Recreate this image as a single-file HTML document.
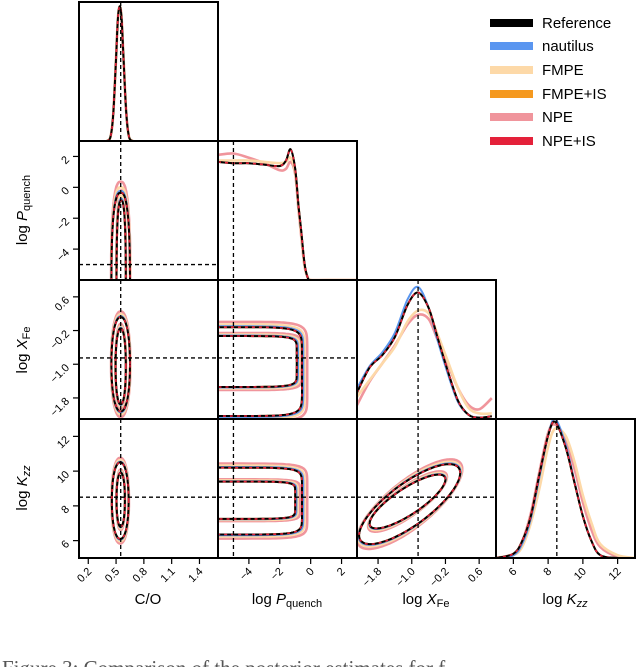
<!DOCTYPE html>
<html><head><meta charset="utf-8"><style>
html,body{margin:0;padding:0;background:#fff;width:640px;height:667px;overflow:hidden}
svg{display:block;font-family:"Liberation Sans","DejaVu Sans",sans-serif}
</style></head><body>
<svg id="fig" width="640" height="667" viewBox="0 0 640 667" xmlns="http://www.w3.org/2000/svg">
<g id="marks"></g>
<g id="frames"></g>
<g id="axes"></g>
<g font-size="15">
 <g><rect x="490" y="19" width="43" height="8" fill="#000"/><text x="542" y="28">Reference</text></g>
 <g><rect x="490" y="42" width="43" height="8" fill="#5a96f0"/><text x="542" y="51">nautilus</text></g>
 <g><rect x="490" y="66" width="43" height="8" fill="#fdd9a8"/><text x="542" y="75">FMPE</text></g>
 <g><rect x="490" y="90" width="43" height="8" fill="#f5991f"/><text x="542" y="99">FMPE+IS</text></g>
 <g><rect x="490" y="113" width="43" height="8" fill="#f0959c"/><text x="542" y="122">NPE</text></g>
 <g><rect x="490" y="137" width="43" height="8" fill="#e4213a"/><text x="542" y="146">NPE+IS</text></g>
</g>
<text x="2" y="675" font-family="Liberation Serif, serif" font-size="21" fill="#555">Figure 3: Comparison of the posterior estimates for f</text>
</svg>
<script>
const NS='http://www.w3.org/2000/svg';
const varNames=['co','log-p-quench','log-x-fe','log-kzz'];
const rangesMin=[0.1,-6,-2.3,5];
const rangesMax=[1.6,3,1.0,13];
const ticksCO=[0.2,0.5,0.8,1.1,1.4];
const ticksP=[-4,-2,0,2];
const ticksFe=[-1.8,-1.0,-0.2,0.6];
const ticksK=[6,8,10,12];
const tickLabelsCO=['0.2','0.5','0.8','1.1','1.4'];
const tickLabelsP=['\u22124','\u22122','0','2'];
const tickLabelsFe=['\u22121.8','\u22121.0','\u22120.2','0.6'];
const tickLabelsK=['6','8','10','12'];
const truthValues=[0.55,-5,-0.85,8.5];
const seriesNames=['npe','fmpe','nautilus','fmpe-is','reference','npe-is'];
const seriesScaleX=[1.04,1.02,1.01,1.0,1.0,1.0];
const seriesScaleY=[1.12,1.06,1.02,1.0,1.0,1.0];
// marginal grids and densities
const gridCO=[0.40,0.44,0.47,0.50,0.52,0.54,0.56,0.58,0.61,0.64,0.68];
const densCO=[0,0.03,0.2,0.6,0.88,0.97,0.88,0.6,0.2,0.03,0];
const gridP=[-6,-5,-4,-3,-2,-1.6,-1.3,-1.0,-0.8,-0.6,-0.4,-0.2,0,1,3];
const densPRef=[0.85,0.84,0.84,0.83,0.82,0.86,0.94,0.80,0.55,0.34,0.12,0.02,0,0,0];
const densPNPE=[0.9,0.91,0.88,0.84,0.79,0.80,0.85,0.76,0.52,0.30,0.10,0.02,0,0,0];
const densPFMPE=[0.86,0.86,0.86,0.85,0.84,0.85,0.88,0.78,0.54,0.32,0.11,0.02,0,0,0];
const gridFe=[-2.3,-2.0,-1.7,-1.4,-1.1,-0.85,-0.6,-0.4,-0.15,0.1,0.35,0.6,0.9];
const densFeRef=[0.19,0.37,0.46,0.59,0.82,0.91,0.80,0.60,0.35,0.13,0.03,0.01,0.02];
const densFeNaut=[0.22,0.38,0.48,0.62,0.86,0.95,0.80,0.58,0.33,0.12,0.03,0.01,0.02];
const densFeFMPE=[0.16,0.28,0.40,0.52,0.70,0.78,0.76,0.62,0.42,0.22,0.08,0.04,0.04];
const densFeNPE=[0.10,0.27,0.40,0.53,0.68,0.75,0.72,0.58,0.40,0.22,0.10,0.07,0.15];
const gridK=[5,6,6.5,7,7.5,8,8.4,9,9.5,10,10.5,11,12,13];
const densKRef=[0,0.03,0.12,0.3,0.6,0.88,0.98,0.8,0.55,0.3,0.12,0.02,0,0];
const densKNaut=[0,0.02,0.1,0.28,0.58,0.88,1.0,0.82,0.56,0.3,0.12,0.02,0,0];
const densKFMPE=[0,0.02,0.08,0.25,0.5,0.8,0.93,0.88,0.7,0.45,0.25,0.1,0.02,0];
const densKNPE=[0,0.03,0.12,0.32,0.62,0.9,0.96,0.85,0.65,0.4,0.2,0.08,0.01,0];
// contours: [row, col, mx, my, sx, sy, rho, p]
const contoursCO_P=[[1,0,0.55,-6.3,0.10,5.95,0,2.6],[1,0,0.555,-6.3,0.05,5.45,0,2.6]];
const contoursCO_Fe=[[2,0,0.55,-1.0,0.10,1.12,0,2.2],[2,0,0.55,-1.05,0.055,0.9,0,2.2]];
const contoursCO_K=[[3,0,0.545,8.3,0.09,2.2,0,2.2],[3,0,0.55,8.35,0.045,1.55,0,2.2]];
const contoursP_Fe=[[2,1,-9,-1.175,8.44,1.055,0,10],[2,1,-9,-0.935,8.1,0.605,0,10]];
const contoursP_K=[[3,1,-9,8.275,8.44,1.925,0,10],[3,1,-9,8.325,8.0,1.075,0,10]];
const contoursFe_K=[[3,2,-1.05,8.1,1.2,2.3,0.78,2],[3,2,-1.1,8.25,0.9,1.55,0.82,2]];

const colors={'reference':'#000','nautilus':'#5a96f0','fmpe':'#fdd9a8','fmpe-is':'#f5991f','npe':'#f0959c','npe-is':'#e4213a'};
const PX=[79,218,357,496], PY=[2,141,280,419], PW=139;
function sx(i,v){return PX[i]+(v-rangesMin[i])/(rangesMax[i]-rangesMin[i])*PW;}
function sy(j,v){return PY[j]+PW-(v-rangesMin[j])/(rangesMax[j]-rangesMin[j])*PW;}
const marks=document.getElementById('marks'), frames=document.getElementById('frames'), axes=document.getElementById('axes');
function mk(tag,attrs,parent){const e=document.createElementNS(NS,tag);for(const k in attrs)e.setAttribute(k,attrs[k]);parent.appendChild(e);return e;}
const defs=mk('defs',{},document.getElementById('fig'));
for(let r=0;r<4;r++)for(let c=0;c<=r;c++){const cp=mk('clipPath',{id:'cp'+r+c},defs);mk('rect',{x:PX[c],y:PY[r],width:PW,height:PW},cp);}
function smooth(pts){let d='M'+pts[0][0].toFixed(1)+','+pts[0][1].toFixed(1);for(let i=0;i<pts.length-1;i++){const p0=pts[Math.max(i-1,0)],p1=pts[i],p2=pts[i+1],p3=pts[Math.min(i+2,pts.length-1)];d+=' C'+(p1[0]+(p2[0]-p0[0])/6).toFixed(1)+','+(p1[1]+(p2[1]-p0[1])/6).toFixed(1)+' '+(p2[0]-(p3[0]-p1[0])/6).toFixed(1)+','+(p2[1]-(p3[1]-p1[1])/6).toFixed(1)+' '+p2[0].toFixed(1)+','+p2[1].toFixed(1);}return d;}
function style(path,s){path.setAttribute('fill','none');path.setAttribute('stroke',colors[s]);path.setAttribute('stroke-width',s==='reference'?2:(s==='npe'||s==='fmpe'?2.6:2));path.setAttribute('stroke-linejoin','round');if(s==='npe-is'){path.setAttribute('stroke-dasharray','3,4');path.setAttribute('stroke-width',1.6);}}
function densFor(k,s){
 if(k===0)return densCO;
 if(k===1)return s==='npe'?densPNPE:(s==='fmpe'?densPFMPE:densPRef);
 if(k===2)return s==='npe'?densFeNPE:(s==='fmpe'?densFeFMPE:(s==='nautilus'?densFeNaut:densFeRef));
 return s==='npe'?densKNPE:(s==='fmpe'?densKFMPE:(s==='nautilus'?densKNaut:densKRef));
}
const grids=[gridCO,gridP,gridFe,gridK];
for(let k=0;k<4;k++){
 const g=mk('g',{'clip-path':'url(#cp'+k+k+')'},marks);
 
 
 for(const s of seriesNames){
  const dens=densFor(k,s);
  const pts=grids[k].map((v,i)=>[sx(k,v),PY[k]+PW-dens[i]*PW]);
  const p=mk('path',{d:smooth(pts)},g);style(p,s);
  
  
 }
}
const allContours=[contoursCO_P,contoursCO_Fe,contoursCO_K,contoursP_Fe,contoursP_K,contoursFe_K];
for(const set of allContours){
 const r=set[0][0],c=set[0][1];
 const g=mk('g',{'clip-path':'url(#cp'+r+c+')'},marks);
 
 
 seriesNames.forEach((s,si)=>{
  set.forEach((ct,li)=>{
   const [rr,cc,mx,my,ax,ay,rho,pw]=ct;
   const fx=seriesScaleX[si], fy=seriesScaleY[si];
   let d='';
   for(let t=0;t<=160;t++){
    const a=t/160*2*Math.PI, ca=Math.cos(a), sa=Math.sin(a);
    const u=Math.sign(ca)*Math.pow(Math.abs(ca),2/pw), w=Math.sign(sa)*Math.pow(Math.abs(sa),2/pw);
    const vx=mx+ax*fx*u, vy=my+ay*fy*(rho*u+Math.sqrt(1-rho*rho)*w);
    d+=(t?'L':'M')+sx(cc,vx).toFixed(1)+','+sy(rr,vy).toFixed(1);
   }
   const p=mk('path',{d:d+'Z'},g);style(p,s);
   
   
  });
 });
}
for(let r=0;r<4;r++)for(let c=0;c<=r;c++){
 const g=mk('g',{'clip-path':'url(#cp'+r+c+')',stroke:'#000','stroke-width':1.3,'stroke-dasharray':'4,3'},marks);
 
 
 mk('line',{x1:sx(c,truthValues[c]),x2:sx(c,truthValues[c]),y1:PY[r],y2:PY[r]+PW},g);
 if(r!==c)mk('line',{x1:PX[c],x2:PX[c]+PW,y1:sy(r,truthValues[r]),y2:sy(r,truthValues[r])},g);
}
for(let r=0;r<4;r++)for(let c=0;c<=r;c++){
 const f=mk('rect',{x:PX[c],y:PY[r],width:PW,height:PW,fill:'none',stroke:'#000','stroke-width':2},frames);
 
 
}
const tickSets=[ticksCO,ticksP,ticksFe,ticksK];
const labelSets=[tickLabelsCO,tickLabelsP,tickLabelsFe,tickLabelsK];
for(let k=0;k<4;k++){
 const g=mk('g',{'font-size':11},axes);
 
 
 tickSets[k].forEach((v,i)=>{
  const x=sx(k,v);
  mk('line',{x1:x,x2:x,y1:558,y2:564,stroke:'#000','stroke-width':1.2},g);
  const t=mk('text',{x:x+4,y:572,'text-anchor':'end',transform:'rotate(-45 '+(x+4)+' 572)'},g);t.textContent=labelSets[k][i];
 });
}
for(let k=1;k<4;k++){
 const g=mk('g',{'font-size':11},axes);
 
 
 tickSets[k].forEach((v,i)=>{
  const y=sy(k,v);
  mk('line',{x1:73,x2:79,y1:y,y2:y,stroke:'#000','stroke-width':1.2},g);
  const t=mk('text',{x:70,y:y+4,'text-anchor':'end',transform:'rotate(-45 70 '+(y+4)+')'},g);t.textContent=labelSets[k][i];
 });
}
</script>
<div style="position:absolute;left:0;top:0;width:640px;height:667px;pointer-events:none">
<svg width="640" height="667" style="position:absolute;left:0;top:0" font-family="Liberation Sans, sans-serif" font-size="15">
 <text x="148" y="604" text-anchor="middle">C/O</text>
 <text x="287" y="604" text-anchor="middle">log <tspan font-style="italic">P</tspan><tspan font-size="11" dy="3">quench</tspan></text>
 <text x="426" y="604" text-anchor="middle">log <tspan font-style="italic">X</tspan><tspan font-size="11" dy="3">Fe</tspan></text>
 <text x="565" y="604" text-anchor="middle">log <tspan font-style="italic">K</tspan><tspan font-size="11" font-style="italic" dy="3">zz</tspan></text>
 <text transform="translate(27 210) rotate(-90)" text-anchor="middle">log <tspan font-style="italic">P</tspan><tspan font-size="11" dy="3">quench</tspan></text>
 <text transform="translate(27 350) rotate(-90)" text-anchor="middle">log <tspan font-style="italic">X</tspan><tspan font-size="11" dy="3">Fe</tspan></text>
 <text transform="translate(27 488) rotate(-90)" text-anchor="middle">log <tspan font-style="italic">K</tspan><tspan font-size="11" font-style="italic" dy="3">zz</tspan></text>
</svg>
</div>
</body></html>
